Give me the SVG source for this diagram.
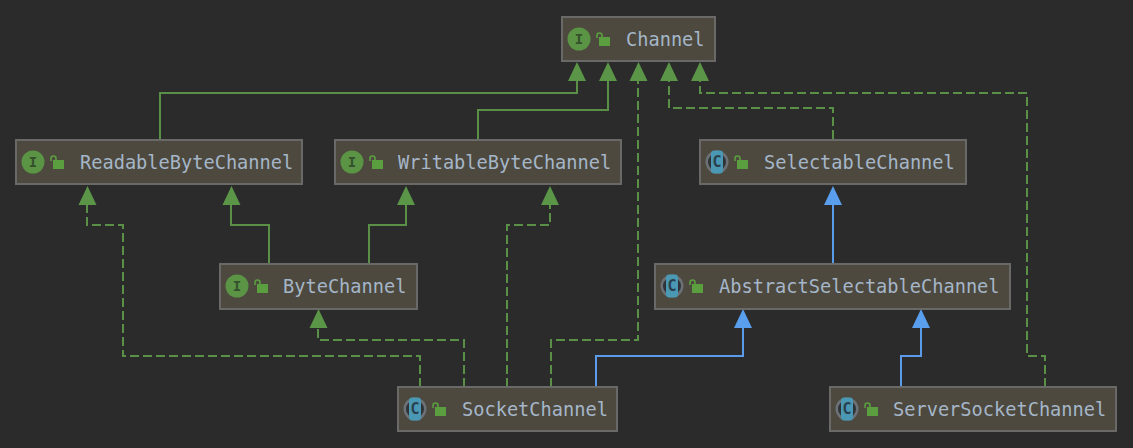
<svg xmlns="http://www.w3.org/2000/svg" width="1133" height="448" viewBox="0 0 1133 448">
<style>
.box{fill:#4d493e;stroke:#696967;stroke-width:2}
.t{font-family:"DejaVu Sans Mono",monospace;font-size:18.65px;fill:#a5b6c9}
.ii{fill:#5a9444}
.il{font-family:"DejaVu Sans Mono",monospace;font-size:14px;font-weight:bold;fill:#35502c;text-anchor:middle}
.ci{fill:#6b7176}
.cc{fill:#2f3337}
.cb{fill:#4a98b4}
.cl{font-family:"DejaVu Sans Mono",monospace;font-size:15px;font-weight:bold;fill:#29404c;text-anchor:middle}
.lk{fill:#5a9e40}
.sh{fill:none;stroke:#5a9e40;stroke-width:1.6}
.g{fill:none;stroke:#5a8f48;stroke-width:2}
.gd{fill:none;stroke:#5a8f48;stroke-width:2;stroke-dasharray:9 4}
.b{fill:none;stroke:#5a9bea;stroke-width:2}
.ag{fill:#5a9548}
.ab{fill:#5a9fee}
</style>
<defs>
<g id="lock"><rect class="lk" x="0" y="0" width="11" height="9"/><path class="sh" d="M-2 1V-1.500a2.500 2.500 0 0 1 5 0V0"/></g>
<g id="icI"><circle class="ii" cx="0" cy="0" r="11.500"/><text class="il" x="0" y="5">I</text></g>
<g id="icC"><circle class="ci" cx="0" cy="0" r="11.500"/><circle class="cc" cx="0" cy="0" r="9"/><rect class="cb" x="-6" y="-11.500" width="12" height="23" rx="3"/><text class="cl" x="0" y="5">C</text></g>
</defs>
<rect width="1133" height="448" fill="#2b2b2b"/>
<g id="connectors">
<path class="g" d="M160 139V93H577V80"/>
<path class="g" d="M478 139V110H608V80"/>
<path class="gd" d="M551 387V340H638V80"/>
<path class="gd" d="M833 139V108H669V80"/>
<path class="gd" d="M1045 387V356H1027V93H700V80"/>
<path class="g" d="M269 264V225H231V204"/>
<path class="g" d="M369 264V225H406V204"/>
<path class="gd" d="M420 387V356H123V225H87V204"/>
<path class="gd" d="M464 387V340H318V327"/>
<path class="gd" d="M507 387V225H550V204"/>
<path class="b" d="M596 387V356H743V327"/>
<path class="b" d="M833 264V204"/>
<path class="b" d="M901 387V356H921V327"/>
<polygon class="ag" points="577,62 568,81 586,81"/>
<polygon class="ag" points="608,62 599,81 617,81"/>
<polygon class="ag" points="638.500,62 629.500,81 647.500,81"/>
<polygon class="ag" points="669,62 660,81 678,81"/>
<polygon class="ag" points="700,62 691,81 709,81"/>
<polygon class="ag" points="87.500,186 78.500,205 96.500,205"/>
<polygon class="ag" points="231.500,186 222.500,205 240.500,205"/>
<polygon class="ag" points="406,186 397,205 415,205"/>
<polygon class="ag" points="550,186 541,205 559,205"/>
<polygon class="ag" points="318.500,309 309.500,328 327.500,328"/>
<polygon class="ab" points="833,186 824,205 842,205"/>
<polygon class="ab" points="743,309 734,328 752,328"/>
<polygon class="ab" points="921,309 912,328 930,328"/>
</g>
<g id="n-channel"><rect class="box" x="562" y="17" width="153" height="44"/><use href="#icI" x="579" y="39"/><use href="#lock" x="599" y="37"/><text class="t" x="626" y="45.500">Channel</text></g>
<g id="n-readable"><rect class="box" x="16" y="140" width="286" height="44"/><use href="#icI" x="33" y="162"/><use href="#lock" x="53" y="160"/><text class="t" x="80" y="168.500">ReadableByteChannel</text></g>
<g id="n-writable"><rect class="box" x="335" y="140" width="286" height="44"/><use href="#icI" x="352" y="162"/><use href="#lock" x="372" y="160"/><text class="t" x="398" y="168.500">WritableByteChannel</text></g>
<g id="n-selectable"><rect class="box" x="700" y="140" width="266" height="44"/><use href="#icC" x="717" y="162"/><use href="#lock" x="737" y="160"/><text class="t" x="764" y="168.500">SelectableChannel</text></g>
<g id="n-byte"><rect class="box" x="220" y="264" width="197" height="45"/><use href="#icI" x="237" y="286"/><use href="#lock" x="257" y="284"/><text class="t" x="283" y="292.500">ByteChannel</text></g>
<g id="n-abstract"><rect class="box" x="655" y="264" width="355" height="45"/><use href="#icC" x="672" y="286"/><use href="#lock" x="692" y="284"/><text class="t" x="719" y="292.500">AbstractSelectableChannel</text></g>
<g id="n-socket"><rect class="box" x="398" y="387" width="219" height="44"/><use href="#icC" x="415" y="409"/><use href="#lock" x="435" y="407"/><text class="t" x="462" y="415.500">SocketChannel</text></g>
<g id="n-server"><rect class="box" x="830" y="387" width="286" height="44"/><use href="#icC" x="847" y="409"/><use href="#lock" x="867" y="407"/><text class="t" x="893" y="415.500">ServerSocketChannel</text></g>
</svg>
